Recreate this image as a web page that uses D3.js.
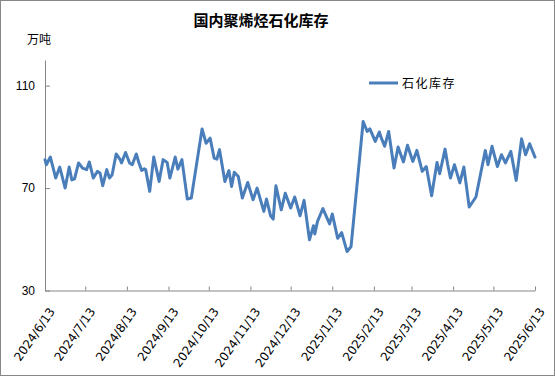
<!DOCTYPE html>
<html>
<head>
<meta charset="utf-8">
<script src="https://cdn.jsdelivr.net/npm/d3@7"></script>
<style>
	body{margin:0;background:#fff;}
	svg{display:block;}
	.axis path, .axis line{stroke:#868686;}
	.axis text{fill:#000;}
	.stock{fill:none;stroke:#4a7ebb;stroke-width:3;stroke-linejoin:round;stroke-linecap:round;}
</style>
</head>
<body>
<div class="container"></div>
<script>
var title = '国内聚烯烃石化库存';
var unit = '万吨';
var seriesName = '石化库存';

var dates = ['2024/6/13','2024/6/14','2024/6/17','2024/6/21','2024/6/24','2024/6/28','2024/7/1','2024/7/3','2024/7/5','2024/7/8',
	'2024/7/11','2024/7/14','2024/7/16','2024/7/19','2024/7/22','2024/7/24','2024/7/26','2024/7/29','2024/7/31','2024/8/2',
	'2024/8/5','2024/8/8','2024/8/9','2024/8/12','2024/8/15','2024/8/17','2024/8/20','2024/8/22','2024/8/24','2024/8/26',
	'2024/8/27','2024/8/30','2024/9/2','2024/9/6','2024/9/9','2024/9/12','2024/9/14','2024/9/18','2024/9/20','2024/9/23',
	'2024/9/27','2024/9/30','2024/10/8','2024/10/11','2024/10/14','2024/10/17','2024/10/19','2024/10/21','2024/10/25','2024/10/28',
	'2024/10/30','2024/11/1','2024/11/4','2024/11/7','2024/11/11','2024/11/15','2024/11/18','2024/11/23','2024/11/25','2024/11/28',
	'2024/11/30','2024/12/2','2024/12/6','2024/12/9','2024/12/13','2024/12/16','2024/12/20','2024/12/23','2024/12/27','2024/12/30',
	'2024/12/31','2025/1/2','2025/1/6','2025/1/11','2025/1/13','2025/1/17','2025/1/20','2025/1/24','2025/1/27','2025/2/5',
	'2025/2/8','2025/2/10','2025/2/14','2025/2/17','2025/2/19','2025/2/21','2025/2/24','2025/2/28','2025/3/3','2025/3/7',
	'2025/3/10','2025/3/14','2025/3/17','2025/3/21','2025/3/24','2025/3/28','2025/4/1','2025/4/3','2025/4/7','2025/4/9',
	'2025/4/11','2025/4/14','2025/4/18','2025/4/21','2025/4/25','2025/4/30','2025/5/7','2025/5/9','2025/5/12','2025/5/16',
	'2025/5/19','2025/5/22','2025/5/26','2025/5/30','2025/6/3','2025/6/6','2025/6/9','2025/6/13'];

var stocks = [81.1,79.1,82.1,73.9,78.2,70.0,78.2,73.2,73.6,79.8,
	77.8,77.2,80.2,73.9,76.5,75.9,70.9,77.2,73.9,75.2,
	83.3,81.1,79.8,83.9,79.8,79.1,83.3,79.8,76.9,77.5,
	77.2,68.7,82.1,72.6,81.1,80.0,73.9,82.1,77.4,81.1,
	65.7,66.1,93.1,87.5,89.5,81.7,81.3,85.0,72.6,76.8,
	70.6,76.2,74.5,66.1,72.2,65.4,70.0,60.9,65.7,59.2,
	57.9,70.9,61.5,68.0,62.2,66.5,59.2,65.2,49.8,55.3,
	52.1,57.0,62.0,56.0,59.9,50.4,52.6,45.2,47.2,96.0,
	92.1,93.1,88.2,91.9,88.9,86.3,92.1,77.8,86.0,80.2,
	86.7,80.4,84.7,76.5,78.4,67.0,80.0,75.6,85.2,79.1,
	73.9,79.1,72.0,78.2,62.6,66.5,84.7,79.1,86.3,78.4,
	83.0,79.8,84.3,73.0,89.2,83.0,87.3,82.1];

var yTicks = [30, 70, 110];
var xTicks = ['2024/6/13','2024/7/13','2024/8/13','2024/9/13','2024/10/13','2024/11/13','2024/12/13',
	'2025/1/13','2025/2/13','2025/3/13','2025/4/13','2025/5/13','2025/6/13'];

const WIDTH = 555;
const HEIGHT = 377;
const LEFT = 45;
const RIGHT = 535;
const TOP = 60;
const BOTTOM = 290.5;

var translate = function(x, y){
	return "translate(" + x + "," + y + ")";
};

var parseDate = d3.timeParse('%Y/%m/%d');
var formatDate = function(d){
	return d.getFullYear() + '/' + (d.getMonth() + 1) + '/' + d.getDate();
};

var quotes = dates.map(function(d, i){
	return {date: parseDate(d), value: stocks[i]};
});

var svg = d3.select('.container').append('svg')
	.attr('width', WIDTH)
	.attr('height', HEIGHT);

svg.append('rect')
	.attr('x', 0.5).attr('y', 0.5)
	.attr('width', WIDTH - 1).attr('height', HEIGHT - 2)
	.attr('fill', '#fff')
	.attr('stroke', '#878787');

var xScale = d3.scaleTime()
	.domain([parseDate(xTicks[0]), parseDate(xTicks[xTicks.length - 1])])
	.range([LEFT, RIGHT]);

var yScale = d3.scaleLinear()
	.domain([30, 120])
	.range([BOTTOM, TOP]);

var xAxis = d3.axisBottom(xScale)
	.tickValues(xTicks.map(parseDate))
	.tickSizeInner(-4)
	.tickSizeOuter(0)
	.tickFormat(formatDate);

var yAxis = d3.axisLeft(yScale)
	.tickValues(yTicks)
	.tickSizeInner(-5)
	.tickSizeOuter(0);

var gx = svg.append('g')
	.attr('class', 'axis')
	.attr('transform', translate(0, BOTTOM))
	.call(xAxis);

gx.selectAll('.tick text')
	.attr('font-family', 'DejaVu Sans, sans-serif')
	.attr('font-size', 12)
	.attr('text-anchor', 'end')
	.attr('dy', 0)
	.attr('y', 0)
	.attr('transform', 'translate(10,21) rotate(-55)');

var gy = svg.append('g')
	.attr('class', 'axis')
	.attr('transform', translate(LEFT, 0))
	.call(yAxis);

gy.selectAll('.tick text')
	.attr('font-family', 'Liberation Sans, sans-serif')
	.attr('font-size', 12)
	.attr('x', -10);

var line = d3.line()
	.x(function(q){ return xScale(q.date); })
	.y(function(q){ return yScale(q.value); });

svg.append('path')
	.attr('class', 'stock')
	.attr('d', line(quotes));

svg.append('text')
	.attr('x', 261)
	.attr('y', 25.5)
	.attr('text-anchor', 'middle')
	.attr('font-family', 'Noto Sans CJK SC')
	.attr('font-weight', 'bold')
	.attr('font-size', 15)
	.text(title);

svg.append('text')
	.attr('x', 27)
	.attr('y', 44)
	.attr('font-family', 'Noto Sans CJK SC')
	.attr('font-size', 12)
	.text(unit);

var legend = svg.append('g').attr('transform', translate(369, 83));
legend.append('line')
	.attr('x1', 0).attr('x2', 29)
	.attr('y1', 0).attr('y2', 0)
	.attr('stroke', '#4a7ebb')
	.attr('stroke-width', 3);
legend.append('text')
	.attr('x', 33)
	.attr('y', 4.5)
	.attr('font-family', 'Noto Sans CJK SC')
	.attr('font-size', 12)
	.attr('letter-spacing', 1.5)
	.text(seriesName);
</script>
</body>
</html>
